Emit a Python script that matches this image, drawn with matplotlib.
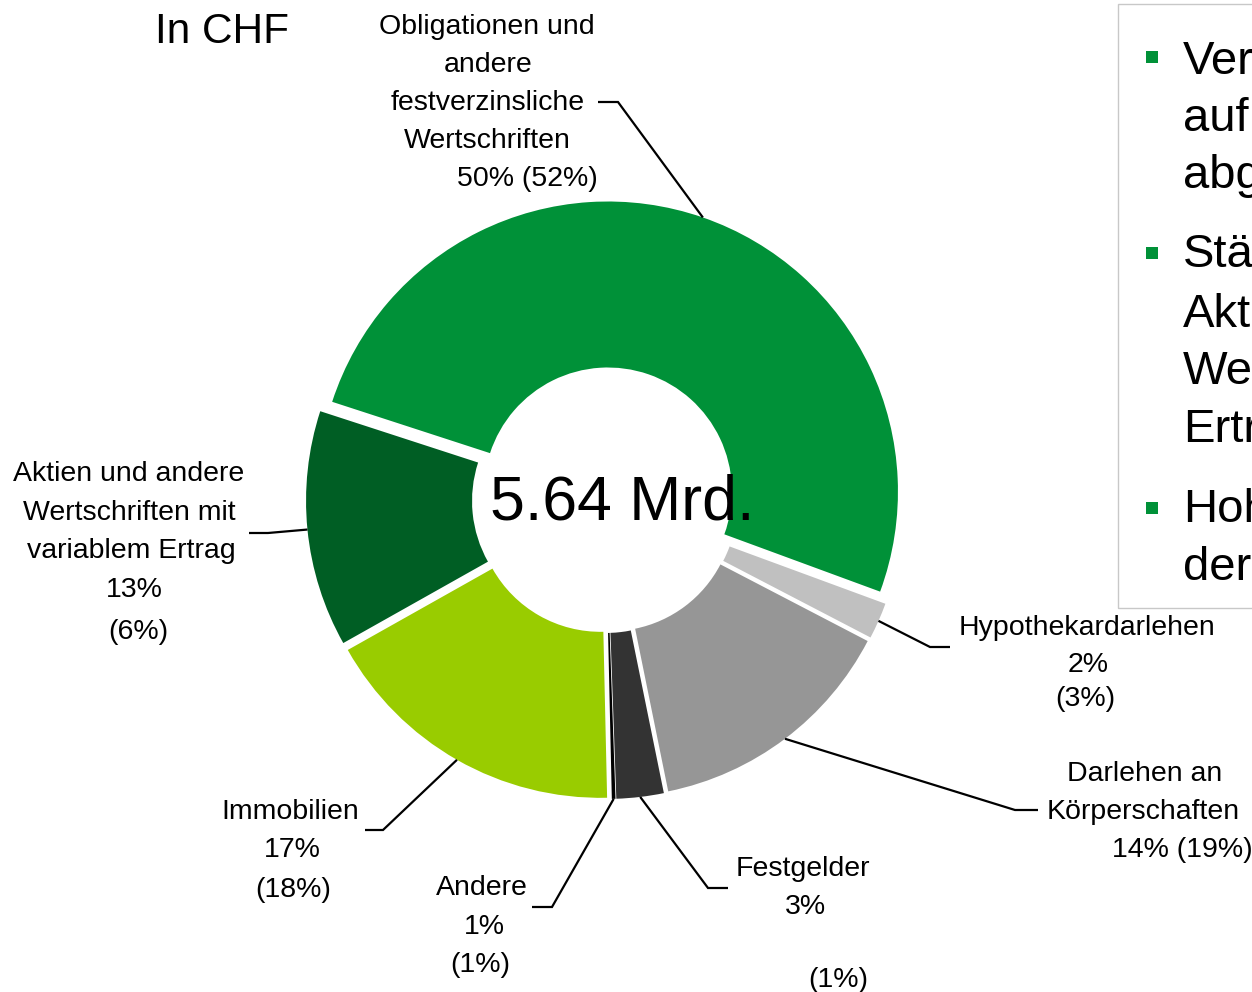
import math
import matplotlib
matplotlib.use("Agg")
import matplotlib.pyplot as plt
from matplotlib.patches import Rectangle

plt.rcParams['font.family'] = ['Liberation Sans', 'DejaVu Sans']

# ---------------- data ----------------
categories = [
    "Obligationen und andere festverzinsliche Wertschriften",
    "Aktien und andere Wertschriften mit variablem Ertrag",
    "Immobilien",
    "Andere",
    "Festgelder",
    "Darlehen an Körperschaften",
    "Hypothekardarlehen",
]
# slice sizes as drawn (percent of total)
shares = [50, 13, 17, 0.2, 2.6, 14, 2]
share_labels = ["50%", "13%", "17%", "1%", "3%", "14%", "2%"]
prior_labels = ["(52%)", "(6%)", "(18%)", "(1%)", "(1%)", "(19%)", "(3%)"]
name_lines = [
    ["Obligationen und", "andere", "festverzinsliche", "Wertschriften"],
    ["Aktien und andere", "Wertschriften mit", "variablem Ertrag"],
    ["Immobilien"],
    ["Andere"],
    ["Festgelder"],
    ["Darlehen an", "Körperschaften"],
    ["Hypothekardarlehen"],
]
combined_pct_line = [True, False, False, False, False, True, False]
colors = ["#009138", "#005E24", "#99CC00", "#000000", "#333333", "#969696", "#C0C0C0"]
total_label = "5.64 Mrd."
unit_label = "In CHF"
bullet_groups = [["Ver", "auf", "abg"], ["Stä", "Akt", "We", "Ertr"], ["Hoh", "der"]]

# ---------------- layout (pixel coordinates, y downward) ----------------
W, H = 1252, 992
fig = plt.figure(figsize=(W / 100, H / 100), dpi=100)
ax = fig.add_axes([0, 0, 1, 1])

def Y(y):
    return H - y

cx, cy = 605, 500
R_out, ring_w = 290, 166
gap = 9

wedges, _ = ax.pie(shares, colors=colors, startangle=-20.2, counterclock=True,
                   radius=R_out, center=(cx, Y(cy)), explode=[gap] * len(shares),
                   wedgeprops=dict(width=ring_w, linewidth=0))
ax.set_aspect('auto')
ax.set_xlim(0, W)
ax.set_ylim(0, H)
ax.axis('off')

# label line positions (center x, center y) per category
label_pos = [
    [(487, 27), (488, 65), (488, 103), (487, 141), (527, 179)],
    [(129, 474), (129, 513), (131, 551), (134, 590), (138, 632)],
    [(290, 812), (292, 850), (293, 890)],
    [(482, 888), (484, 927), (480, 965)],
    [(803, 869), (805, 907), (838, 980)],
    [(1145, 774), (1143, 812), (1182, 850)],
    [(1087, 628), (1088, 665), (1085, 699)],
]
# leader line elbow and end points
leaders = [
    [(618, 102), (598, 102)],
    [(268, 533), (249, 533)],
    [(383, 830), (365, 830)],
    [(552, 907), (532, 907)],
    [(708, 888), (728, 888)],
    [(1015, 810), (1038, 810)],
    [(930, 647), (950, 647)],
]

fs_label = 20.5
for i, w in enumerate(wedges):
    lines = list(name_lines[i])
    if combined_pct_line[i]:
        lines.append(f"{share_labels[i]} {prior_labels[i]}")
    else:
        lines += [share_labels[i], prior_labels[i]]
    for txt, (x, y) in zip(lines, label_pos[i]):
        ax.text(x, Y(y), txt, ha='center', va='center', fontsize=fs_label, color='#000000')
    mid = math.radians((w.theta1 + w.theta2) / 2)
    ax_, ay_ = w.center[0] + w.r * math.cos(mid), w.center[1] + w.r * math.sin(mid)
    (ex, ey), (tx, ty) = leaders[i]
    ax.plot([ax_, ex, tx], [ay_, Y(ey), Y(ty)], color='black', lw=1.6,
            solid_capstyle='butt', solid_joinstyle='miter')

# center total
ax.text(622, Y(503), total_label, ha='center', va='center', fontsize=45, color='black')
# unit title
ax.text(155, Y(32), unit_label, ha='left', va='center', fontsize=30.5, color='black')

# right text box (clipped at figure edge)
ax.add_patch(Rectangle((1118, Y(608)), 300, 604, facecolor='none', edgecolor='#C8C8C8', lw=1.0))
line_ys = [[62, 119, 176], [255, 315, 372, 430], [510, 568]]
bullet_ys = [57, 253, 508]
for grp, ys, by in zip(bullet_groups, line_ys, bullet_ys):
    ax.add_patch(Rectangle((1146, Y(by + 6)), 12, 12, facecolor='#009138', edgecolor='none'))
    for txt, y in zip(grp, ys):
        ax.text(1183, Y(y), txt, ha='left', va='center', fontsize=34, color='black')

fig.savefig("out.png", dpi=100)
